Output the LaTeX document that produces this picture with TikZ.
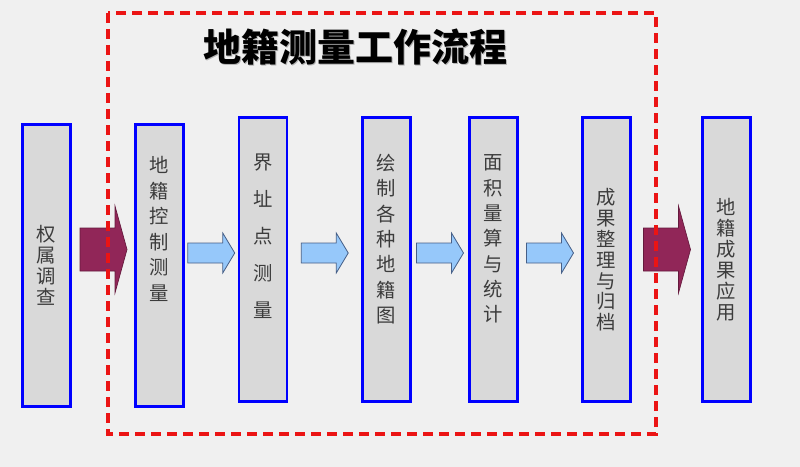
\documentclass[tikz,border=0pt]{standalone}
\usepackage{fontspec}
\newfontfamily\cjk{Noto Sans CJK SC}
\usetikzlibrary{calc}
\definecolor{bg}{RGB}{240,240,240}
\definecolor{boxfill}{RGB}{217,217,217}
\definecolor{boxblue}{RGB}{0,0,255}
\definecolor{maroonfill}{RGB}{145,38,88}
\definecolor{maroonline}{RGB}{100,25,60}
\definecolor{lblue}{RGB}{150,200,250}
\definecolor{lblueline}{RGB}{70,95,135}
\definecolor{dashred}{RGB}{235,20,20}
\definecolor{txt}{RGB}{60,60,60}
\begin{document}
\begin{tikzpicture}[x=0.75pt,y=-0.75pt,
  box/.style={draw=boxblue,line width=2.2pt,fill=boxfill,inner sep=0pt,minimum width=36pt},
  tallbox/.style={minimum height=213pt},
  shortbox/.style={minimum height=211.5pt},
  vlab/.style={align=center,text=txt,inner sep=0pt,font=\cjk\fontsize{14.5pt}{#1}\selectfont},
  titlefont/.style={font=\cjk\bfseries\fontsize{28.5pt}{32pt}\selectfont},
  bigarrow/.style={fill=maroonfill,draw=maroonline,line width=0.5pt},
  smallarrow/.style={fill=lblue,draw=lblueline,line width=0.6pt},
  frame/.style={draw=dashred,line width=2.3pt,dash pattern=on 7.5pt off 4.5pt}]
\fill[bg] (0,0) rectangle (800,467);
\useasboundingbox (0,0) rectangle (800,467);
% title
\node[text=black!30,titlefont] (titleshadow) at (356.5,48.5) {地籍测量工作流程};
\node[text=black,titlefont] (title) at (355,47) {地籍测量工作流程};
% boxes
\node[box,shortbox] (b1) at (46.5,265.5) {};
\node[box,shortbox] (b2) at (159.5,265.5) {};
\node[box,tallbox] (b3) at (263,259.5) {};
\node[box,tallbox] (b4) at (386.5,259.5) {};
\node[box,tallbox] (b5) at (493.5,259.5) {};
\node[box,tallbox] (b6) at (606.5,259.5) {};
\node[box,tallbox] (b7) at (726.5,259.5) {};
% labels
\node[vlab=15.8pt] (t1) at (46.5,265) {权\\属\\调\\查};
\node[vlab=19.2pt] (t2) at (159.5,229) {地\\籍\\控\\制\\测\\量};
\node[vlab=27.8pt] (t3) at (263,236) {界\\址\\点\\测\\量};
\node[vlab=19pt] (t4) at (386.5,239) {绘\\制\\各\\种\\地\\籍\\图};
\node[vlab=19pt] (t5) at (493.5,239) {面\\积\\量\\算\\与\\统\\计};
\node[vlab=15.6pt] (t6) at (606.5,260) {成\\果\\整\\理\\与\\归\\档};
\node[vlab=15.8pt] (t7) at (726.5,259.5) {地\\籍\\成\\果\\应\\用};
% arrow centres
\coordinate (ybig) at (0,249.5);
\coordinate (ysmall) at (0,253);
\coordinate (m1) at ($(b1.east)!0.5!(b2.west)$);
\coordinate (m2) at ($(b2.east)!0.5!(b3.west)$);
\coordinate (m3) at ($(b3.east)!0.5!(b4.west)$);
\coordinate (m4) at ($(b4.east)!0.5!(b5.west)$);
\coordinate (m5) at ($(b5.east)!0.5!(b6.west)$);
\coordinate (m6) at ($(b6.east)!0.5!(b7.west)$);
% big maroon arrows
\foreach \m in {m1,m6}{
  \draw[bigarrow] (\m |- ybig) ++(-23,-21.5) -- ++(35,0) -- ++(0,-22) -- ++(12,43.5) -- ++(-12,43.5) -- ++(0,-22) -- ++(-35,0) -- cycle;
}
% small blue arrows
\foreach \m in {m2,m3,m4,m5}{
  \draw[smallarrow] (\m |- ysmall) ++(-23.5,-10) -- ++(35,0) -- ++(0,-10) -- ++(12,20) -- ++(-12,20) -- ++(0,-10) -- ++(-35,0) -- cycle;
}
% dashed frame
\draw[frame] (108,13) rectangle (656,434);
\end{tikzpicture}
\end{document}
